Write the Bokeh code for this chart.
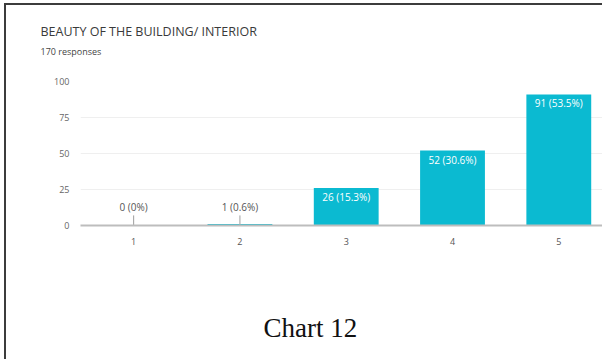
from bokeh.plotting import figure
from bokeh.models import ColumnDataSource, Range1d, FixedTicker, Title
from bokeh.core.properties import value
from bokeh.embed import file_html
from bokeh.resources import INLINE

# ---- data ----
categories = [1, 2, 3, 4, 5]
counts = [0, 1, 26, 52, 91]
percents = ["0%", "0.6%", "15.3%", "30.6%", "53.5%"]
y_ticks = [0, 25, 50, 75, 100]
title_text = "BEAUTY OF THE BUILDING/ INTERIOR"
subtitle_text = "170 responses"
caption_text = "Chart 12"

BAR = "#0bbad1"

labels = [f"{c} ({p})" for c, p in zip(counts, percents)]
big = [c >= 10 for c in counts]
src_in = ColumnDataSource(dict(
    x=[x for x, b in zip(categories, big) if b],
    y=[c for c, b in zip(counts, big) if b],
    t=[l for l, b in zip(labels, big) if b]))
src_out = ColumnDataSource(dict(
    x=[x for x, b in zip(categories, big) if not b],
    y=[0 for b in big if not b],
    top=[7 for b in big if not b],
    t=[l for l, b in zip(labels, big) if not b]))

p = figure(width=598, height=356, output_backend="svg", toolbar_location=None,
           title=None,
           x_range=Range1d(0.5, 5.43), y_range=Range1d(0, 100),
           min_border_left=74, min_border_right=0, min_border_top=76,
           min_border_bottom=136, outline_line_color=None,
           background_fill_color="white", border_fill_color="white")
p.styles = {"border-top": "2px solid #3c3c3c", "border-left": "2px solid #3c3c3c",
            "margin-top": "3px", "margin-left": "4px"}

p.vbar(x=categories, top=counts, width=0.61, color=BAR, line_color=None)
p.segment(x0="x", y0="y", x1="x", y1="top", source=src_out,
          line_color="#9e9e9e", line_width=1)
p.text(x="x", y="top", text="t", source=src_out, text_align="center",
       text_baseline="bottom", y_offset=-1, text_font_size="10px",
       text_color="#555555", text_font=value("Open Sans"))
p.text(x="x", y="y", text="t", source=src_in, text_align="center",
       text_baseline="top", y_offset=2, text_font_size="10px",
       text_color="white", text_font=value("Open Sans"))

p.xgrid.grid_line_color = None
p.ygrid.grid_line_color = "#efefef"
p.ygrid.ticker = FixedTicker(ticks=y_ticks)

p.xaxis.ticker = FixedTicker(ticks=categories)
p.xaxis.axis_line_color = "#bdbdbd"
p.xaxis.axis_line_width = 2
p.xaxis.major_tick_line_color = None
p.xaxis.minor_tick_line_color = None
p.xaxis.major_label_standoff = 6
p.xaxis.major_label_text_font_size = "9px"
p.xaxis.major_label_text_color = "#555555"
p.xaxis.major_label_text_font = "Open Sans"

p.yaxis.ticker = FixedTicker(ticks=y_ticks)
p.yaxis.axis_line_color = None
p.yaxis.major_tick_line_color = None
p.yaxis.minor_tick_line_color = None
p.yaxis.major_label_standoff = 5
p.yaxis.major_label_text_font_size = "9px"
p.yaxis.major_label_text_color = "#666666"
p.yaxis.major_label_text_font = "Open Sans"

# above panel, from the frame outward: spacer, subtitle, title
p.add_layout(Title(text=" ", text_font_size="1px", standoff=18), "above")
p.add_layout(Title(text=subtitle_text, text_font="Open Sans", text_font_size="9px",
                   text_color="#444444", text_font_style="normal",
                   align="left", offset=-40, standoff=6), "above")
p.add_layout(Title(text=title_text, text_font="Open Sans", text_font_size="12.5px",
                   text_color="#3a3a3a", text_font_style="normal",
                   align="left", offset=-40, standoff=0), "above")
# below panel, after the x axis: spacer, caption
p.add_layout(Title(text=" ", text_font_size="1px", standoff=60), "below")
p.add_layout(Title(text=caption_text, text_font="Liberation Serif",
                   text_font_size="27px", text_color="#111111",
                   text_font_style="normal", align="left", offset=183,
                   standoff=0), "below")

open("out.html", "w").write(file_html(p, INLINE))
